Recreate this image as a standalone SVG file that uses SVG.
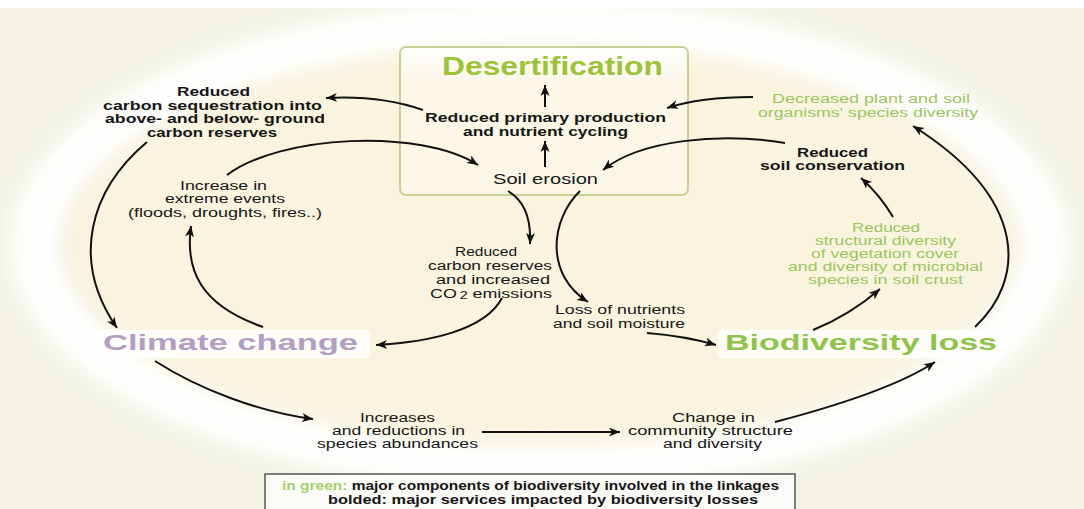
<svg xmlns="http://www.w3.org/2000/svg" width="1084" height="509" viewBox="0 0 1084 509">
<style>
text{font-family:"Liberation Sans",Arial,sans-serif;fill:#161616}
.b{font-weight:bold}
.s{font-size:12.5px}
.g{fill:#9cc462}
.big{font-size:22px;font-weight:bold}
.con path{fill:none;stroke:#111;stroke-width:2;marker-end:url(#ah)}
</style>
<defs>
<marker id="ah" markerUnits="userSpaceOnUse" markerWidth="12" markerHeight="10" refX="11" refY="4.5" orient="auto">
<path d="M0,0 L11,4.5 L0,9 L3,4.5 z" fill="#111"/>
</marker>
<filter id="bl" x="-10%" y="-20%" width="120%" height="140%"><feGaussianBlur stdDeviation="10"/></filter>
<linearGradient id="tg" x1="0" y1="0" x2="0" y2="1"><stop offset="0" stop-color="#ffffff"/><stop offset="1" stop-color="#fbf6e6"/></linearGradient>
</defs>
<rect width="1084" height="509" fill="#f3f2e5"/>
<rect width="1084" height="8" fill="#ffffff"/>
<g id="background">
<ellipse cx="540" cy="245" rx="505" ry="220" fill="none" stroke="#ffffff" stroke-width="50" opacity="0.95" filter="url(#bl)"/>
<ellipse cx="540" cy="245" rx="470" ry="198" fill="#faf4df" filter="url(#bl)"/>
</g>
<g id="desertification">
<rect x="400" y="47" width="288" height="148" rx="6" fill="#fbf6e5" stroke="#c6d196" stroke-width="2"/>
<rect x="401" y="48" width="286" height="34" rx="5" fill="url(#tg)"/>
<text x="442" y="75" font-size="25" class="b" style="fill:#9cc43a" textLength="221" lengthAdjust="spacingAndGlyphs">Desertification</text>
</g>
<g id="primary-production">
<text class="s b" x="425" y="122" textLength="241" lengthAdjust="spacingAndGlyphs">Reduced primary production</text>
<text class="s b" x="463" y="136" textLength="165" lengthAdjust="spacingAndGlyphs">and nutrient cycling</text>
</g>
<g id="soil-erosion">
<text x="493" y="184" font-size="15.5" textLength="105" lengthAdjust="spacingAndGlyphs">Soil erosion</text>
</g>
<g id="carbon-sequestration">
<text class="s b" x="177" y="96" textLength="73" lengthAdjust="spacingAndGlyphs">Reduced</text>
<text class="s b" x="103" y="110" textLength="219" lengthAdjust="spacingAndGlyphs">carbon sequestration into</text>
<text class="s b" x="105" y="123" textLength="220" lengthAdjust="spacingAndGlyphs">above- and below- ground</text>
<text class="s b" x="147" y="137" textLength="130" lengthAdjust="spacingAndGlyphs">carbon reserves</text>
</g>
<g id="extreme-events">
<text class="s" x="180" y="190" textLength="87" lengthAdjust="spacingAndGlyphs">Increase in</text>
<text class="s" x="165" y="203" textLength="120" lengthAdjust="spacingAndGlyphs">extreme events</text>
<text class="s" x="128" y="217" textLength="194" lengthAdjust="spacingAndGlyphs">(floods, droughts, fires..)</text>
</g>
<g id="carbon-reserves">
<text class="s" x="455" y="256" textLength="62" lengthAdjust="spacingAndGlyphs">Reduced</text>
<text class="s" x="428" y="270" textLength="124" lengthAdjust="spacingAndGlyphs">carbon reserves</text>
<text class="s" x="436" y="284" textLength="114" lengthAdjust="spacingAndGlyphs">and increased</text>
<text class="s" x="430" y="298" textLength="122" lengthAdjust="spacingAndGlyphs">CO<tspan font-size="10" dx="2" dy="1">2</tspan><tspan dy="-1"> emissions</tspan></text>
</g>
<g id="nutrients">
<text class="s" x="555" y="314" textLength="130" lengthAdjust="spacingAndGlyphs">Loss of nutrients</text>
<text class="s" x="553" y="328" textLength="132" lengthAdjust="spacingAndGlyphs">and soil moisture</text>
</g>
<g id="species-diversity">
<text class="s g" x="772" y="103" textLength="198" lengthAdjust="spacingAndGlyphs">Decreased plant and soil</text>
<text class="s g" x="758" y="117" textLength="220" lengthAdjust="spacingAndGlyphs">organisms' species diversity</text>
</g>
<g id="soil-conservation">
<text class="s b" x="797" y="157" textLength="71" lengthAdjust="spacingAndGlyphs">Reduced</text>
<text class="s b" x="760" y="170" textLength="145" lengthAdjust="spacingAndGlyphs">soil conservation</text>
</g>
<g id="structural-diversity">
<text class="s g" x="852" y="232" textLength="68" lengthAdjust="spacingAndGlyphs">Reduced</text>
<text class="s g" x="815" y="245" textLength="141" lengthAdjust="spacingAndGlyphs">structural diversity</text>
<text class="s g" x="811" y="258" textLength="148" lengthAdjust="spacingAndGlyphs">of vegetation cover</text>
<text class="s g" x="788" y="271" textLength="195" lengthAdjust="spacingAndGlyphs">and diversity of microbial</text>
<text class="s g" x="808" y="284" textLength="155" lengthAdjust="spacingAndGlyphs">species in soil crust</text>
</g>
<g id="climate-change">
<rect x="90" y="330" width="280" height="28" fill="#ffffff" opacity="0.85"/>
<text class="big" x="103" y="350" style="fill:#b49dc0" textLength="255" lengthAdjust="spacingAndGlyphs">Climate change</text>
</g>
<g id="biodiversity-loss">
<rect x="718" y="330" width="284" height="28" fill="#ffffff" opacity="0.85"/>
<text class="big" x="725" y="350" style="fill:#8fc448" textLength="272" lengthAdjust="spacingAndGlyphs">Biodiversity loss</text>
</g>
<g id="abundances">
<text class="s" x="360" y="422" textLength="75" lengthAdjust="spacingAndGlyphs">Increases</text>
<text class="s" x="332" y="435" textLength="133" lengthAdjust="spacingAndGlyphs">and reductions in</text>
<text class="s" x="317" y="448" textLength="161" lengthAdjust="spacingAndGlyphs">species abundances</text>
</g>
<g id="community">
<text class="s" x="672" y="422" textLength="83" lengthAdjust="spacingAndGlyphs">Change in</text>
<text class="s" x="628" y="435" textLength="165" lengthAdjust="spacingAndGlyphs">community structure</text>
<text class="s" x="663" y="448" textLength="99" lengthAdjust="spacingAndGlyphs">and diversity</text>
</g>
<g id="legend">
<rect x="265" y="474" width="530" height="42" fill="#fbfbf7" stroke="#555" stroke-width="1.5"/>
<text class="b" font-size="13.5" x="282" y="490" textLength="497" lengthAdjust="spacingAndGlyphs"><tspan style="fill:#a6cf6e">in green:</tspan> major components of biodiversity involved in the linkages</text>
<text class="b" font-size="13.5" x="328" y="504" textLength="430" lengthAdjust="spacingAndGlyphs">bolded: major services impacted by biodiversity losses</text>
</g>
<g id="connectors" class="con">
<path d="M545 107 L545 85"/>
<path d="M545 167 L545 141"/>
<path d="M423 110 Q380 95 326 98"/>
<path d="M227 175 C280 135 420 128 478 165"/>
<path d="M147 142 C90 190 70 260 117 328"/>
<path d="M263 327 C200 305 185 270 191 226"/>
<path d="M502 298 C485 330 430 342 376 345"/>
<path d="M155 361 C200 390 260 412 313 419"/>
<path d="M508 191 Q532 205 530 244"/>
<path d="M580 191 C550 220 545 275 588 302"/>
<path d="M647 333 Q685 336 716 345"/>
<path d="M813 330 Q850 315 880 289"/>
<path d="M975 327 C1025 280 1030 200 913 126"/>
<path d="M893 217 Q880 195 861 178"/>
<path d="M753 97 Q700 97 667 108"/>
<path d="M785 143 C720 132 640 140 603 170"/>
<path d="M482 432 L620 432"/>
<path d="M775 422 C840 405 900 385 935 362"/>
</g>
</svg>
